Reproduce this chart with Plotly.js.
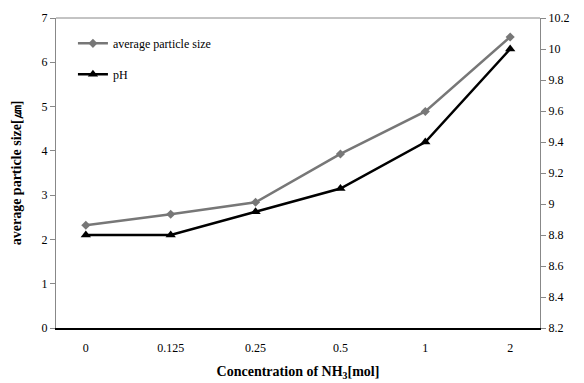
<!DOCTYPE html>
<html><head><meta charset="utf-8">
<script src="https://cdn.plot.ly/plotly-3.0.1.min.js"></script>
<style>html,body{margin:0;padding:0;background:#fff}#chart{width:584px;height:383px}</style>
</head><body><div id="chart"></div>
<script>
const categories = ["0", "0.125", "0.25", "0.5", "1", "2"];
const particleSize = [2.32, 2.57, 2.84, 3.93, 4.89, 6.57];
const pH = [8.8, 8.8, 8.95, 9.1, 9.4, 10.0];
const leftTicks = [0, 1, 2, 3, 4, 5, 6, 7];
const rightTicks = [8.2, 8.4, 8.6, 8.8, 9.0, 9.2, 9.4, 9.6, 9.8, 10.0, 10.2];
const rightTickText = ["8.2", "8.4", "8.6", "8.8", "9", "9.2", "9.4", "9.6", "9.8", "10", "10.2"];

const font = "Liberation Serif";
const traces = [
  {x: categories, y: particleSize, name: "average particle size", type: "scatter", mode: "lines+markers",
   line: {color: "#777777", width: 2.5}, marker: {symbol: "diamond", size: 7, color: "#777777"},
   legendgroup: "a"},
  {x: categories, y: pH, name: "pH", type: "scatter", mode: "lines+markers", yaxis: "y2",
   line: {color: "#000000", width: 2.5}, marker: {symbol: "triangle-up", size: 9, color: "#000000"},
   legendgroup: "b"}
];
const layout = {
  width: 584, height: 383,
  margin: {l: 56, r: 44, t: 18, b: 55},
  paper_bgcolor: "#fff", plot_bgcolor: "#fff",
  font: {family: font, size: 12, color: "#000"},
  showlegend: true,
  legend: {x: 0.035, y: 0.965, xanchor: "left", yanchor: "top", bgcolor: "rgba(0,0,0,0)",
    font: {family: font, size: 12}, traceorder: "grouped", tracegroupgap: 12, itemwidth: 30},
  xaxis: {type: "category", showline: true, linecolor: "#000", linewidth: 1.5, showgrid: false,
    ticks: "", zeroline: false, tickfont: {family: font, size: 12}, ticklabelstandoff: 8,
    title: {text: "<b>Concentration of NH<sub>3</sub>[mol]</b>", font: {family: font, size: 14}, standoff: 12}},
  yaxis: {range: [0, 7], tickvals: leftTicks, showline: true, linecolor: "#888", linewidth: 1, showgrid: false,
    ticks: "outside", ticklen: 5, tickcolor: "#888", zeroline: false, tickfont: {family: font, size: 12},
    title: {text: "<b>average particle size[㎛]</b>", font: {family: font, size: 14}, standoff: 16}},
  yaxis2: {range: [8.2, 10.2], tickvals: rightTicks, ticktext: rightTickText, overlaying: "y", side: "right",
    showline: true, linecolor: "#888", linewidth: 1, showgrid: false, ticks: "outside", ticklen: 5,
    tickcolor: "#888", zeroline: false, tickfont: {family: font, size: 12}},
  shapes: [{type: "line", xref: "paper", yref: "paper", x0: 0, x1: 1, y0: 1, y1: 1,
    line: {color: "#888", width: 1}}]
};
Plotly.newPlot("chart", traces, layout, {displayModeBar: false, staticPlot: true});
</script></body></html>
